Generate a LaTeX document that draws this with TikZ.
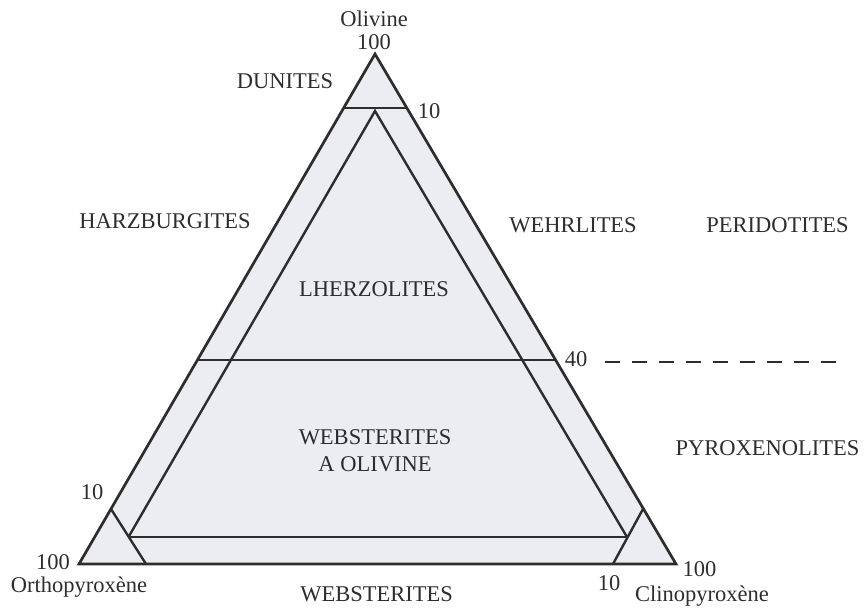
\documentclass[tikz,border=0pt]{standalone}
\usepackage{fontspec}
\setmainfont{Liberation Serif}
\usepackage{xcolor}
\usepackage{tikz}
\usetikzlibrary{calc}
\definecolor{inkgray}{RGB}{45,45,45}
\definecolor{fillgray}{RGB}{236,236,243}
\tikzstyle{edge}=[draw=inkgray, line width=2.7pt, line join=miter]
\tikzstyle{field}=[edge, line width=2.4pt]
\tikzstyle{lbl}=[inner sep=0pt, anchor=base, text=inkgray, font=\fontsize{22.5}{27}\selectfont]

\begin{document}
\begin{tikzpicture}[x=1pt, y=-1pt]
\useasboundingbox (0,0) rectangle (864,614);
% corners of the triangle
\coordinate (ol) at (375,54);
\coordinate (opx) at (79,564);
\coordinate (cpx) at (676,564);
% boundary points
\coordinate (du1) at (343.5,108);
\coordinate (du2) at (407,108);
\coordinate (apex) at (375,111);
\coordinate (px1) at (197.5,360);
\coordinate (px2) at (555.5,360);
\coordinate (ws1) at (128.5,537);
\coordinate (ws2) at (627,537);
\coordinate (or1) at (111,509);
\coordinate (or2) at (146,564);
\coordinate (cl1) at (643,509);
\coordinate (cl2) at (613,564);
\coordinate (dash1) at (605,362);
\coordinate (dash2) at (840,362);

\fill[fillgray] (ol) -- (opx) -- (cpx) -- cycle;
\draw[field] (du1) -- (du2);
\draw[field] (ws1) -- (apex) -- (ws2);
\draw[field] (px1) -- (px2);
\draw[field] (ws1) -- (ws2);
\draw[field] (or1) -- (or2);
\draw[field] (cl1) -- (cl2);
\draw[edge] (ol) -- (opx) -- (cpx) -- cycle;
\draw[draw=inkgray, line width=2pt, dash pattern=on 15pt off 12pt] (dash1) -- (dash2);

% corner labels
\node[lbl] (olname) at (374,26.7) {Olivine};
\node[lbl] (ol100) at (374,49) {100};
\node[lbl] (opx100) at (53,569.3) {100};
\node[lbl] (opxname) at (79,592.7) {Orthopyroxène};
\node[lbl] (cpx100) at (699.5,576.7) {100};
\node[lbl] (cpxname) at (702,601.7) {Clinopyroxène};
% ticks
\node[lbl] (t10a) at (429,118) {10};
\node[lbl] (t40) at (576,366) {40};
\node[lbl] (t10b) at (92,499.3) {10};
\node[lbl] (t10c) at (609,590.7) {10};
% rock names
\node[lbl] (dun) at (285,88.3) {DUNITES};
\node[lbl] (har) at (165,228.3) {HARZBURGITES};
\node[lbl] (weh) at (573,232) {WEHRLITES};
\node[lbl] (per) at (777.5,232) {PERIDOTITES};
\node[lbl] (lhe) at (374,296.7) {LHERZOLITES};
\node[lbl, anchor=center, align=center] (wol) at (375,451) {WEBSTERITES\\A OLIVINE};
\node[lbl] (pyr) at (767.5,455) {PYROXENOLITES};
\node[lbl] (web) at (376.7,601.7) {WEBSTERITES};
\end{tikzpicture}
\end{document}
